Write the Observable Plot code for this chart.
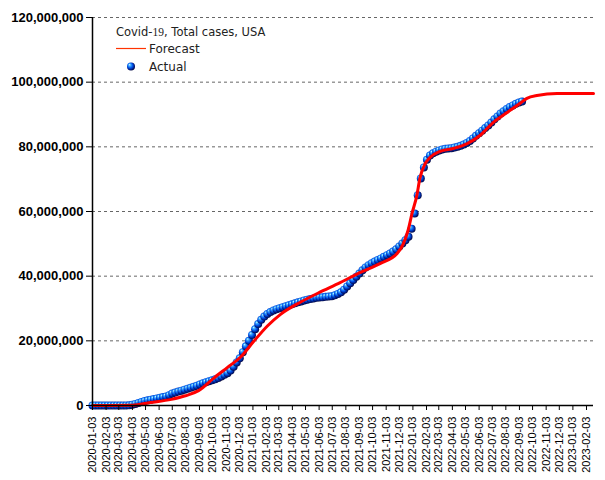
<!DOCTYPE html>
<html>
<head>
<meta charset="utf-8">
<script src="https://cdn.jsdelivr.net/npm/d3@7"></script>
<script src="https://cdn.jsdelivr.net/npm/@observablehq/plot@0.6"></script>
<style>
  html, body { margin: 0; padding: 0; background: #fff; }
  #chart svg { display: block; }
</style>
</head>
<body>
<div id="chart"></div>
<script>
// ---- data ----
const actualStart = "2020-01-03"; // weekly observations
const actualValues = [ // millions, cumulative
  0, 0, 0, 0, 0, 0, 0, 0, 0, 0, 0, 0, 0.05, 0.25, 0.5, 0.8, 1.1, 1.4, 1.6, 1.8,
  2.0, 2.2, 2.4, 2.6, 2.8, 3.2, 3.7, 4.0, 4.3, 4.6, 4.9, 5.2, 5.5, 5.8, 6.1, 6.5, 6.9, 7.2, 7.5, 7.8,
  8.1, 8.5, 9.0, 9.5, 10.0, 10.8, 12.0, 13.3, 14.6, 16.5, 18.3, 20.0, 21.8, 23.6, 25.2, 26.5, 27.5, 28.3, 28.9, 29.4,
  29.8, 30.1, 30.4, 30.7, 31.0, 31.3, 31.6, 31.9, 32.2, 32.5, 32.7, 32.9, 33.1, 33.3, 33.4, 33.5, 33.6, 33.7, 33.8, 34.1,
  34.5, 35.0, 35.8, 36.8, 37.8, 38.8, 39.8, 40.8, 41.8, 42.7, 43.4, 44.0, 44.5, 45.0, 45.5, 46.0, 46.5, 47.0, 47.6, 48.3,
  49.2, 50.1, 51.1, 52.2, 54.7, 59.4, 65.0, 70.2, 73.6, 76.0, 77.3, 78.0, 78.5, 78.9, 79.2, 79.4, 79.5, 79.6, 79.8, 80.0,
  80.3, 80.7, 81.2, 81.8, 82.6, 83.4, 84.2, 85.0, 85.8, 86.6, 87.5, 88.5, 89.4, 90.3, 91.0, 91.7, 92.3, 92.8, 93.3, 93.7,
  94.0
];
const forecastDates = [
  "2020-01-03", "2020-04-03", "2020-05-14", "2020-07-01", "2020-08-02", "2020-09-01", "2020-10-05", "2020-11-06",
  "2020-12-06", "2021-01-04", "2021-02-05", "2021-03-07", "2021-04-22", "2021-06-01", "2021-07-21", "2021-09-04",
  "2021-10-20", "2021-11-28", "2021-12-12", "2021-12-23", "2022-01-01", "2022-01-12", "2022-01-19", "2022-01-31",
  "2022-02-11", "2022-03-06", "2022-04-05", "2022-05-07", "2022-06-05", "2022-07-05", "2022-08-06", "2022-09-04",
  "2022-09-20", "2022-10-13", "2022-11-28", "2023-02-19"
];
const forecastValues = [ // millions
  0, 0.1, 0.9, 1.9, 3.0, 4.6, 8.4, 11.8,
  15.0, 19.7, 24.6, 28.2, 32.0, 34.8, 38.0, 41.1,
  43.9, 47.0, 50.0, 54.2, 59.4, 65.0, 70.3, 74.8,
  76.7, 78.6, 79.5, 81.0, 83.5, 87.5, 90.6, 93.4,
  95.0, 95.9, 96.5, 96.5
];
const xTickLabels = [
  "2020-01-03","2020-02-03","2020-03-03","2020-04-03","2020-05-03","2020-06-03","2020-07-03","2020-08-03",
  "2020-09-03","2020-10-03","2020-11-03","2020-12-03","2021-01-03","2021-02-03","2021-03-03","2021-04-03",
  "2021-05-03","2021-06-03","2021-07-03","2021-08-03","2021-09-03","2021-10-03","2021-11-03","2021-12-03",
  "2022-01-03","2022-02-03","2022-03-03","2022-04-03","2022-05-03","2022-06-03","2022-07-03","2022-08-03",
  "2022-09-03","2022-10-03","2022-11-03","2022-12-03","2023-01-03","2023-02-03"
];
const yTicks = [0, 20e6, 40e6, 60e6, 80e6, 100e6, 120e6];
const xDomain = ["2020-01-03", "2023-02-19"];
const chartTitle = "Covid-19, Total cases, USA";
const seriesNames = ["Forecast", "Actual"];

// ---- tables ----
const parse = d3.utcParse("%Y-%m-%d");
const start = parse(actualStart);
const actual = actualValues.map((v, i) => ({date: d3.utcDay.offset(start, 7 * i), value: v * 1e6}));
const forecast = forecastDates.map((d, i) => ({date: parse(d), value: forecastValues[i] * 1e6}));
const xTicks = xTickLabels.map(parse);

const chart = Plot.plot({
  width: 605,
  height: 480,
  marginLeft: 92,
  marginRight: 12,
  marginTop: 17,
  marginBottom: 75,
  style: {fontFamily: "'Liberation Sans', Arial, sans-serif", background: "#fff", color: "#000"},
  x: {type: "utc", domain: xDomain.map(parse)},
  y: {domain: [0, 120e6]},
  marks: [
    Plot.gridY(yTicks, {stroke: "#666", strokeOpacity: 1, strokeDasharray: "3,3"}),
    Plot.dot(actual, {x: "date", y: "value", r: 4, fill: "url(#ball)", stroke: "none"}),
    Plot.line(forecast, {x: "date", y: "value", stroke: "#ff0000", strokeWidth: 3, curve: "monotone-x"}),
    Plot.ruleX([parse(xDomain[0])], {stroke: "#000", strokeWidth: 1.5}),
    Plot.ruleY([0], {stroke: "#000", strokeWidth: 1.5}),
    Plot.axisY(yTicks, {tickFormat: d3.format(","), tickSize: 6, tickPadding: 3, fontSize: 13, fontWeight: "bold", label: null}),
    Plot.axisX(xTicks, {tickFormat: d3.utcFormat("%Y-%m-%d"), tickRotate: -90, tickSize: 5, tickPadding: 6, fontSize: 11, fill: "#000", stroke: "#000", label: null})
  ]
});

// sphere gradient + legend
const svg = d3.select(chart);
svg.insert("defs", ":first-child").html(`
  <radialGradient id="ball" cx="45%" cy="45%" r="60%" fx="30%" fy="26%">
    <stop offset="0%" stop-color="#d0f8ff"/>
    <stop offset="25%" stop-color="#3aa8ff"/>
    <stop offset="55%" stop-color="#0050e8"/>
    <stop offset="85%" stop-color="#001470"/>
    <stop offset="100%" stop-color="#000030"/>
  </radialGradient>`);
const lg = svg.append("g")
  .attr("font-family", "'DejaVu Sans', sans-serif")
  .attr("font-size", 12)
  .attr("fill", "#222")
  .attr("text-anchor", "start");
const t = lg.append("text").attr("x", 116).attr("y", 36).attr("font-size", 11.5);
t.append("tspan").text(chartTitle.slice(0, 6));
t.append("tspan").attr("font-family", "'Liberation Serif', serif").text(chartTitle.slice(6, 8));
t.append("tspan").text(chartTitle.slice(8));
lg.append("line").attr("x1", 116).attr("x2", 146).attr("y1", 48.5).attr("y2", 48.5).attr("stroke", "#ff3300").attr("stroke-width", 1.2);
lg.append("text").attr("x", 149).attr("y", 53).text(seriesNames[0]);
lg.append("circle").attr("cx", 131).attr("cy", 66.5).attr("r", 4).attr("fill", "url(#ball)");
lg.append("text").attr("x", 149).attr("y", 71).text(seriesNames[1]);

document.getElementById("chart").appendChild(chart);
</script>
</body>
</html>
